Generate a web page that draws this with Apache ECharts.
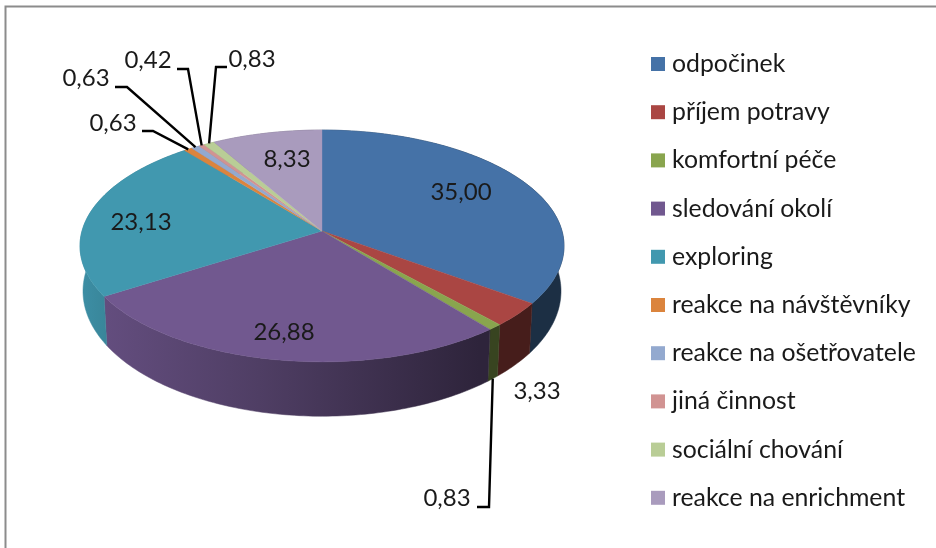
<!DOCTYPE html>
<html>
<head>
<meta charset="utf-8">
<title>Aktivity</title>
<style>html,body{margin:0;padding:0;background:#fff}#chart{width:936px;height:548px}</style>
<script src="https://cdn.jsdelivr.net/npm/echarts@6/dist/echarts.min.js"></script>
</head>
<body>
<div id="chart"></div>
<script>
// Activity budget, percent of observed time
const categories = ['odpočinek', 'příjem potravy', 'komfortní péče', 'sledování okolí', 'exploring',
  'reakce na návštěvníky', 'reakce na ošetřovatele', 'jiná činnost', 'sociální chování', 'reakce na enrichment'];
const shares = [35.00, 3.33, 0.83, 26.88, 23.13, 0.63, 0.63, 0.42, 0.83, 8.33];

const palette = ['#4572A7', '#AA4643', '#89A54E', '#71588F', '#4198AF', '#DB843D', '#93A9CF', '#D19392', '#B9CD96', '#A99BBD'];

// Perspective disc: circle centre projects to (cx, cy), k is the foreshortening
const k = 0.129;
const disc = {
  top: { cx: 322, cy: 231, a: 240, b: 114 },
  bottom: { cx: 322, cy: 275, a: 237, b: 123 }
};
const fontFamily = 'Lato, "Noto Sans", sans-serif';
const labelSize = 24;

// Label centres, with the leader's elbow segment for labels set away from their slice
const labelSpots = [
  { x: 461, y: 192 },
  { x: 537, y: 391 },
  { x: 447, y: 498, leader: [[477, 507], [489, 507]], end: 'bottom' },
  { x: 284, y: 332 },
  { x: 141, y: 222 },
  { x: 113, y: 123, leader: [[142, 131], [153, 131]], end: 'top' },
  { x: 86, y: 78, leader: [[115, 87], [127, 87]], end: 'top' },
  { x: 148, y: 60, leader: [[177, 69], [188, 69]], end: 'top' },
  { x: 252, y: 59, leader: [[227, 67], [216, 67]], end: 'top' },
  { x: 287, y: 159 }
];

const total = shares.reduce((s, v) => s + v, 0);

function project(d, theta) {
  const X = Math.sin(theta), Y = -Math.cos(theta), w = 1 - k * Y;
  return [d.cx + d.a * X / w, d.cy + d.b * Y / w];
}

function arc(d, from, to) {
  const n = Math.max(2, Math.ceil((to - from) / (Math.PI / 180)));
  const pts = [];
  for (let i = 0; i <= n; i++) pts.push(project(d, from + (to - from) * i / n));
  return pts;
}

function scale(hex, f) {
  const n = parseInt(hex.slice(1), 16);
  const c = [n >> 16, (n >> 8) & 255, n & 255].map(v => Math.round(v * f));
  return 'rgb(' + c.join(',') + ')';
}

// Side wall darkens from left to right across the disc
function wallFill(hex) {
  return {
    type: 'linear', global: true, x: 85, y: 0, x2: 500, y2: 0,
    colorStops: [
      { offset: 0, color: scale(hex, 0.93) },
      { offset: 0.05, color: scale(hex, 0.88) },
      { offset: 0.42, color: scale(hex, 0.70) },
      { offset: 0.95, color: scale(hex, 0.41) },
      { offset: 1, color: scale(hex, 0.41) }
    ]
  };
}

function makeRender(index) {
  return function (params, api) {
    const value = api.value(0);
    const before = shares.slice(0, index).reduce((s, v) => s + v, 0);
    const from = before / total * 2 * Math.PI;
    const to = (before + value) / total * 2 * Math.PI;
    const mid = (from + to) / 2;
    const color = palette[index];
    const spot = labelSpots[index];
    const children = [];

    // Side wall
    const wallFillColor = wallFill(color);
    children.push({
      type: 'polygon', z2: 1,
      shape: { points: arc(disc.top, from, to).concat(arc(disc.bottom, from, to).reverse()) },
      style: { fill: wallFillColor, stroke: wallFillColor, lineWidth: 0.5 }
    });

    // Top face
    children.push({
      type: 'polygon', z2: 10,
      shape: { points: [[disc.top.cx, disc.top.cy]].concat(arc(disc.top, from, to)) },
      style: { fill: color, stroke: color, lineWidth: 0.4 }
    });

    // Leader line runs from the label elbow to the slice's rim
    if (spot.leader) {
      children.push({
        type: 'polyline', z2: 20,
        shape: { points: spot.leader.concat([project(disc[spot.end], mid)]) },
        style: { fill: null, stroke: '#000', lineWidth: 2.4 }
      });
    }

    children.push({
      type: 'text', z2: 30,
      style: {
        x: spot.x, y: spot.y, text: value.toFixed(2).replace('.', ','),
        align: 'center', verticalAlign: 'middle',
        fill: '#1a1a1a', font: labelSize + 'px ' + fontFamily
      }
    });
    return { type: 'group', children: children };
  };
}

const chart = echarts.init(document.getElementById('chart'), null, { renderer: 'canvas' });
chart.setOption({
  animation: false,
  backgroundColor: '#fff',
  graphic: [{
    type: 'polyline', silent: true,
    shape: { points: [[5.5, 548], [5.5, 6.5], [936, 6.5]] },
    style: { fill: null, stroke: '#8c8c8c', lineWidth: 2 }
  }],
  legend: {
    orient: 'vertical', left: 651, top: 51, padding: 0,
    itemWidth: 14, itemHeight: 14, itemGap: 22.2,
    icon: 'rect',
    textStyle: { fontFamily: fontFamily, fontSize: 24.8, color: '#1a1a1a', padding: [0, 0, 0, 2], lineHeight: 26 },
    data: categories
  },
  series: categories.map((name, i) => ({
    type: 'custom',
    name: name,
    coordinateSystem: 'none',
    silent: true,
    itemStyle: { color: palette[i] },
    data: [[shares[i]]],
    renderItem: makeRender(i)
  }))
});
</script>
</body>
</html>
